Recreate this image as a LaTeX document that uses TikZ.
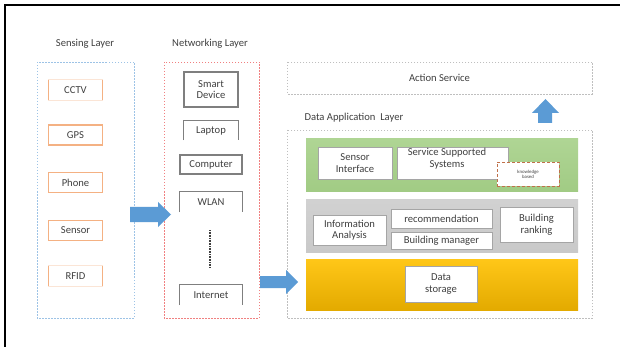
\documentclass[tikz,border=0pt]{standalone}
\usepackage{fontspec}
\setmainfont{Carlito}
\usetikzlibrary{shadows}
\definecolor{txt}{HTML}{404040}
\definecolor{orng}{HTML}{F4B183}
\definecolor{orngl}{HTML}{FBE5D6}
\definecolor{bluel}{HTML}{9DC3E6}
\definecolor{redl}{HTML}{F08080}
\definecolor{grayd}{HTML}{BFBFBF}
\definecolor{arrowblue}{HTML}{5B9BD5}
\definecolor{boxgray}{HTML}{7F7F7F}
\definecolor{greenA}{HTML}{AFD594}
\definecolor{greenB}{HTML}{A1CB84}
\definecolor{yelA}{HTML}{FFC718}
\definecolor{yelB}{HTML}{E3AA00}
\definecolor{graybg}{HTML}{C9C9C9}
\definecolor{kbrown}{HTML}{C0704A}
\begin{document}
\begin{tikzpicture}[x=1pt,y=-1pt,
  every node/.style={font=\fontsize{10.6}{11.5}\selectfont, text=txt},
  title/.style={font=\fontsize{10.6}{11.5}\selectfont},
  sensbox/.style={draw=orng, line width=1.4pt, fill=white, minimum width=54pt, minimum height=20pt, inner sep=0pt},
  sensopen/.style={draw=none, fill=white, minimum width=54pt, minimum height=20pt, inner sep=0pt},
  netbox/.style={draw=boxgray, line width=1.3pt, fill=white, inner sep=0pt, align=center},
  netopen/.style={draw=none, fill=white, inner sep=0pt, align=center},
  appbox/.style={draw=boxgray!70, line width=0.9pt, fill=white, inner sep=0pt, align=center,
     drop shadow={shadow xshift=1pt, shadow yshift=-1pt, opacity=0.35}},
  layerbox/.style={line width=0.6pt, densely dashed, dash pattern=on 1.5pt off 1.5pt},
  blockarrow/.style={fill=arrowblue, draw=none}
]
\useasboundingbox (0,0) rectangle (620,347);
\fill[white] (0,0) rectangle (620,347);
% frame lines
\coordinate (f0) at (5,5);
\coordinate (f1) at (620,5);
\coordinate (f2) at (5,347);
\draw[line width=2pt] (f2) -- (f0) -- (f1);

% ---------- Sensing layer ----------
\node[title] (tsens) at (85,44) {Sensing Layer};
\coordinate (s1) at (37,62); \coordinate (s2) at (134,318);
\draw[layerbox, draw=bluel] (s1) rectangle (s2);
\node[sensopen] (cctv) at (75.5,90) {CCTV};
\draw[orngl, line width=1pt] (cctv.north west) -- (cctv.north east) (cctv.south west) -- (cctv.south east);
\draw[orng, line width=1.4pt] (cctv.north west) -- (cctv.south west) (cctv.north east) -- (cctv.south east);
\node[sensbox] (gps) at (75.5,135) {GPS};
\node[sensbox] (phone) at (75.5,182.5) {Phone};
\node[sensbox] (sensor) at (75.5,230.5) {Sensor};
\node[sensopen] (rfid) at (75.5,276) {RFID};
\draw[orngl, line width=1pt] (rfid.north west) -- (rfid.north east) (rfid.south west) -- (rfid.south east);
\draw[orng, line width=1.4pt] (rfid.north west) -- (rfid.south west) (rfid.north east) -- (rfid.south east);

% ---------- Networking layer ----------
\node[title] (tnet) at (210,44) {Networking Layer};
\coordinate (n1) at (164,62); \coordinate (n2) at (259,318);
\draw[layerbox, draw=redl] (n1) rectangle (n2);
\node[netbox, minimum width=54pt, minimum height=35pt] (smart) at (211,89.5) {Smart\\Device};
\node[netopen, minimum width=54pt, minimum height=19pt] (laptop) at (211,130.5) {Laptop};
\draw[boxgray, line width=1.3pt] (laptop.south west) -- (laptop.north west) -- (laptop.north east) -- (laptop.south east);
\node[netbox, minimum width=62pt, minimum height=19pt] (computer) at (211,164.5) {Computer};
\node[netopen, minimum width=62pt, minimum height=20pt] (wlan) at (211,202) {WLAN};
\draw[boxgray, line width=1.3pt] (wlan.south west) -- (wlan.north west) -- (wlan.north east) -- (wlan.south east);
\coordinate (d1) at (210,230); \coordinate (d2) at (210,268);
\draw[txt, line width=1.2pt, dash pattern=on 0.8pt off 0.8pt] (d1) -- (d2);
\node[netopen, minimum width=62pt, minimum height=20pt] (internet) at (211,295) {Internet};
\draw[boxgray, line width=1.3pt] (internet.south west) -- (internet.north west) -- (internet.north east) -- (internet.south east);

% ---------- Action service ----------
\coordinate (a1) at (287,62); \coordinate (a2) at (592,94);
\draw[layerbox, draw=grayd] (a1) rectangle (a2);
\node (action) at (439.5,78) {Action Service};

% ---------- Data application layer ----------
\node[title, anchor=west] (tdata) at (301,118) {Data Application \ Layer};
\coordinate (p1) at (287,130); \coordinate (p2) at (592,318);
\draw[layerbox, draw=grayd] (p1) rectangle (p2);

% green band
\coordinate (g1) at (306,139); \coordinate (g2) at (578,192);
\shade[top color=greenA, bottom color=greenB] (g1) rectangle (g2);
\node[appbox, minimum width=74pt, minimum height=32pt] (sensint) at (355,163) {Sensor\\Interface};
\node[appbox, minimum width=111pt, minimum height=32pt] (sss) at (452.5,163) {};
\node[align=center, anchor=north] (ssst) at (447,145) {Service Supported\\Systems};
\node[draw=kbrown, densely dashed, line width=0.8pt, fill=white, minimum width=62pt, minimum height=24pt, inner sep=0pt, align=center, font=\fontsize{4.8}{5.3}\selectfont] (kb) at (528,174.5) {knowledge\\based};

% gray band
\coordinate (r1) at (306,200); \coordinate (r2) at (578,252);
\shade[top color=graybg!85!white, bottom color=graybg] (r1) rectangle (r2);
\node[appbox, minimum width=73pt, minimum height=30pt] (info) at (349.5,230) {Information\\Analysis};
\node[appbox, minimum width=101pt, minimum height=19pt] (recom) at (441.5,218.5) {recommendation};
\node[appbox, minimum width=101pt, minimum height=17pt] (bman) at (441.5,240.5) {Building manager};
\node[appbox, minimum width=73pt, minimum height=35pt] (brank) at (536.5,224.5) {Building\\ranking};

% yellow band
\coordinate (y1) at (306,259); \coordinate (y2) at (578,310);
\shade[top color=yelA, bottom color=yelB] (y1) rectangle (y2);
\node[appbox, minimum width=72pt, minimum height=36pt] (store) at (441,284) {Data\\storage};

% ---------- block arrows ----------
\fill[blockarrow] (130,207) -- (158,207) -- (158,202) -- (171,214.5) -- (158,227) -- (158,222) -- (130,222) -- cycle;
\fill[blockarrow] (260,276) -- (286,276) -- (286,270) -- (298,282) -- (286,294) -- (286,288) -- (260,288) -- cycle;
\fill[blockarrow] (538,123) -- (538,113) -- (532,113) -- (545.5,99) -- (559,113) -- (552,113) -- (552,123) -- cycle;
\end{tikzpicture}
\end{document}
